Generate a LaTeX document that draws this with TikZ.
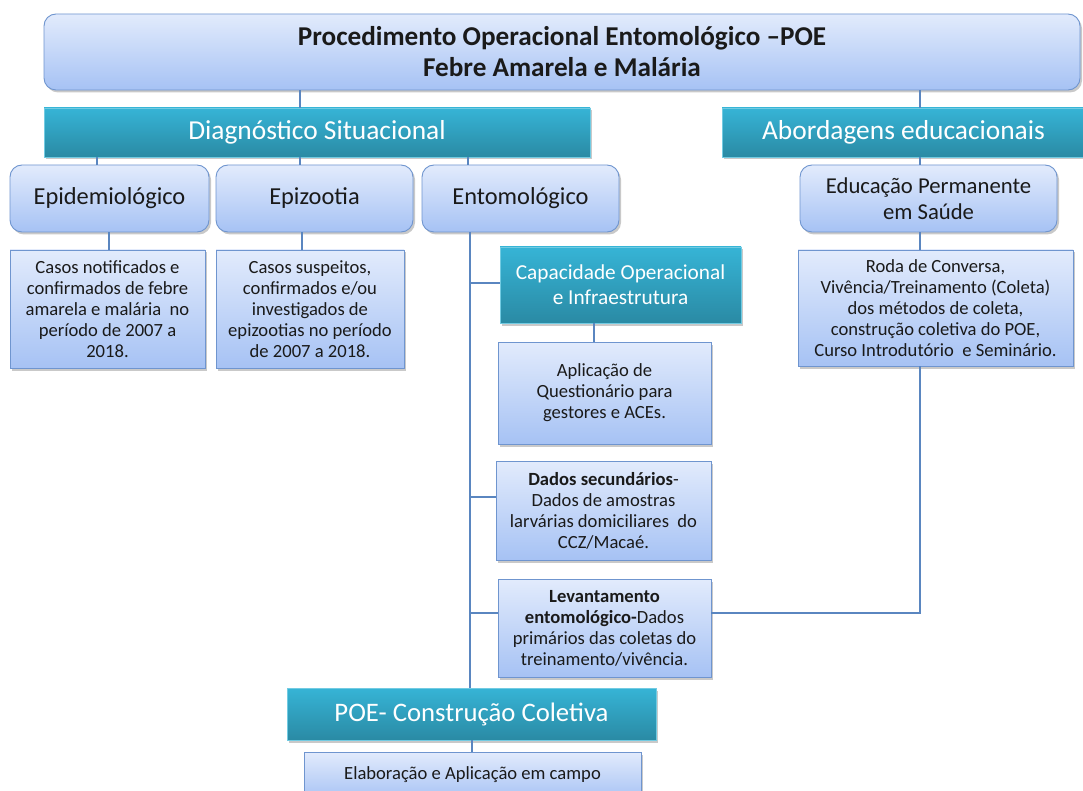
\documentclass[tikz,border=0pt]{standalone}
\usepackage{fontspec}
\setmainfont{Carlito}
\usetikzlibrary{shadows}
\definecolor{lbtop}{HTML}{E2EBFC}
\definecolor{lbbot}{HTML}{A6C2F4}
\definecolor{lbdraw}{HTML}{6F95CF}
\definecolor{tltop}{HTML}{36B4D6}
\definecolor{tlbot}{HTML}{2A8AA4}
\definecolor{connc}{HTML}{5A86C0}
\definecolor{txt}{HTML}{1A1A1A}
\tikzset{
  lbox/.style={draw=lbdraw, line width=0.9pt, top color=lbtop, bottom color=lbbot,
    inner sep=0pt, align=center, text=txt,
    drop shadow={shadow xshift=2pt, shadow yshift=-2.5pt, opacity=0.35, fill=black!60}},
  rbox/.style={lbox, rounded corners=12pt},
  tbox/.style={draw=tltop!70!white, line width=0.6pt, top color=tltop, bottom color=tlbot,
    inner sep=0pt, align=center, text=white,
    drop shadow={shadow xshift=2pt, shadow yshift=-2.5pt, opacity=0.35, fill=black!60}},
  conn/.style={draw=connc, line width=2.4pt},
  small/.style={font=\fontsize{18.6}{21}\selectfont},
}
\begin{document}
\begin{tikzpicture}[x=1pt,y=-1pt]
\useasboundingbox[fill=white] (0,0) rectangle (1083,791);
% x positions of connectors
\coordinate (xa) at (300,0);
\coordinate (xb) at (920,0);
\coordinate (xc) at (97,0);
\coordinate (xd) at (468,0);
\coordinate (xe) at (109,0);
\coordinate (xf) at (302,0);
\coordinate (xs) at (470,0);
\coordinate (xq) at (594,0);
\coordinate (xp) at (472,0);
\coordinate (y1) at (0,283);
\coordinate (y2) at (0,497);
\coordinate (y3) at (0,613);

\node[rbox, minimum width=1036pt, minimum height=76pt, font=\fontsize{27.2}{31}\selectfont\bfseries] (title) at (562,52)
  {Procedimento Operacional Entomológico –POE\\Febre Amarela e Malária};

\node[tbox, minimum width=546pt, minimum height=49pt, font=\fontsize{27.4}{30}\selectfont] (diag) at (317,132.5) {\raisebox{-3.5pt}{Diagnóstico Situacional}};
\node[tbox, minimum width=363pt, minimum height=49pt, font=\fontsize{27.4}{30}\selectfont] (abord) at (903.5,132.5) {\raisebox{-3.5pt}{Abordagens educacionais}};

\node[rbox, minimum width=199pt, minimum height=67pt, font=\fontsize{24.4}{28}\selectfont] (epid) at (109.5,198.5) {\raisebox{-5.5pt}{Epidemiológico}};
\node[rbox, minimum width=197pt, minimum height=67pt, font=\fontsize{24.4}{28}\selectfont] (epiz) at (314.5,198.5) {\raisebox{-5.5pt}{Epizootia}};
\node[rbox, minimum width=197pt, minimum height=67pt, font=\fontsize{24.4}{28}\selectfont] (ento) at (520.5,198.5) {\raisebox{-5.5pt}{Entomológico}};
\node[rbox, minimum width=257pt, minimum height=67pt, font=\fontsize{22.7}{26}\selectfont] (edu) at (928.5,198.5) {Educação Permanente\\em Saúde};

\node[lbox, small, minimum width=195pt, minimum height=118pt] (cas1) at (107.5,309)
  {Casos notificados e\\confirmados de febre\\amarela e malária \ no\\período de 2007 a\\2018.};
\node[lbox, small, minimum width=188pt, minimum height=118pt] (cas2) at (310,309)
  {Casos suspeitos,\\confirmados e/ou\\investigados de\\epizootias no período\\de 2007 a 2018.};

\node[tbox, minimum width=241pt, minimum height=76pt, font=\fontsize{21.3}{25}\selectfont] (cap) at (620.5,285)
  {Capacidade Operacional\\e Infraestrutura};
\node[lbox, small, minimum width=213pt, minimum height=102pt] (quest) at (604.5,393)
  {Aplicação de\\Questionário para\\gestores e ACEs.};
\node[lbox, small, minimum width=215pt, minimum height=99pt] (dados) at (603.5,510.5)
  {\textbf{Dados secundários}-\\Dados de amostras\\larvárias domiciliares \ do\\CCZ/Macaé.};
\node[lbox, small, minimum width=213pt, minimum height=98pt] (lev) at (604.5,628)
  {\textbf{Levantamento}\\\textbf{entomológico-}Dados\\primários das coletas do\\treinamento/vivência.};

\node[lbox, small, minimum width=275pt, minimum height=116pt] (roda) at (935.5,308)
  {Roda de Conversa,\\Vivência/Treinamento (Coleta)\\dos métodos de coleta,\\construção coletiva do POE,\\Curso Introdutório \ e Seminário.};

\node[tbox, minimum width=369pt, minimum height=52pt, font=\fontsize{26.7}{30}\selectfont] (poe) at (471.5,714) {\raisebox{-4pt}{POE- Construção Coletiva}};
\node[lbox, small, minimum width=337pt, minimum height=48pt] (elab) at (472.5,776) {\raisebox{5pt}{Elaboração e Aplicação em campo}};

% connectors
\draw[conn] (title.south -| xa) -- (diag.north -| xa);
\draw[conn] (title.south -| xb) -- (abord.north -| xb);
\draw[conn] (diag.south -| xc) -- (epid.north -| xc);
\draw[conn] (diag.south -| xa) -- (epiz.north -| xa);
\draw[conn] (diag.south -| xd) -- (ento.north -| xd);
\draw[conn] (abord.south -| xb) -- (edu.north -| xb);
\draw[conn] (epid.south -| xe) -- (cas1.north -| xe);
\draw[conn] (epiz.south -| xf) -- (cas2.north -| xf);
\draw[conn] (edu.south -| xb) -- (roda.north -| xb);
\draw[conn] (ento.south -| xs) -- (poe.north -| xs);
\draw[conn] (xs |- y1) -- (cap.west |- y1);
\draw[conn] (xs |- y2) -- (dados.west |- y2);
\draw[conn] (xs |- y3) -- (lev.west |- y3);
\draw[conn] (cap.south -| xq) -- (quest.north -| xq);
\draw[conn] (lev.east |- y3) -- (xb |- y3) -- (roda.south -| xb);
\draw[conn] (poe.south -| xp) -- (elab.north -| xp);
\end{tikzpicture}
\end{document}
